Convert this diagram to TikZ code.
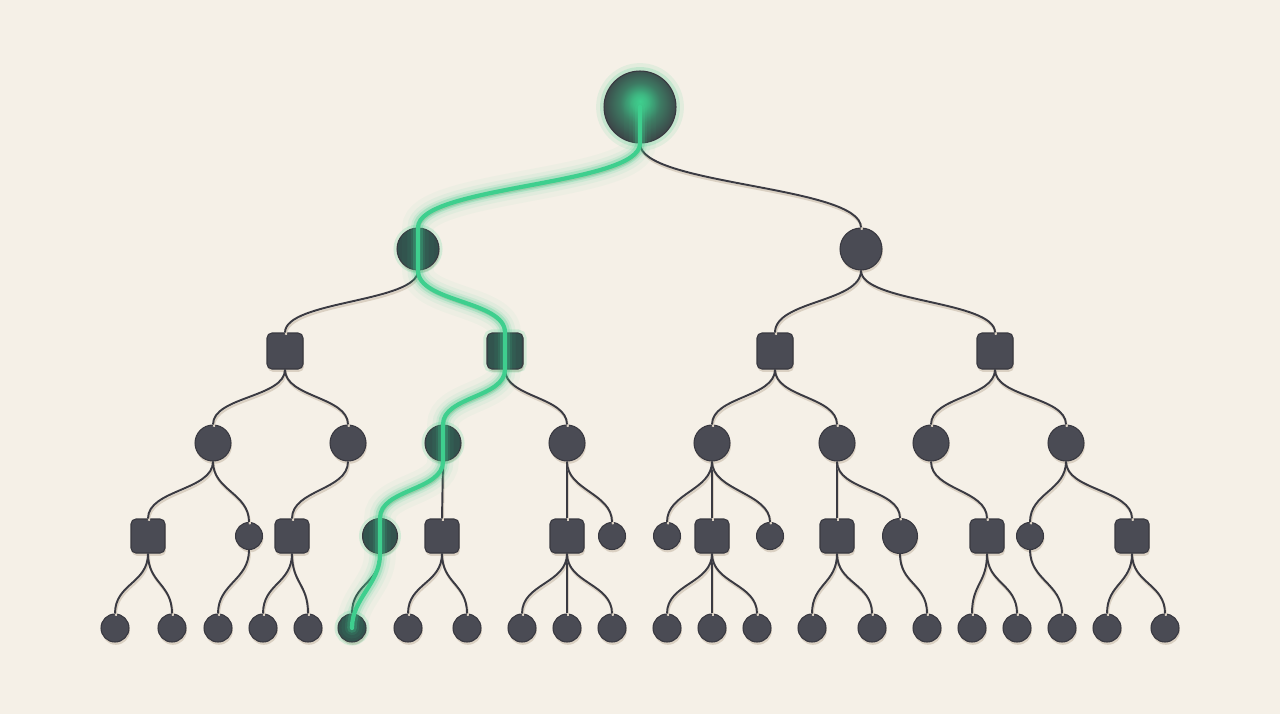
\documentclass[tikz,border=0pt]{standalone}
\usepackage{tikz}
\usetikzlibrary{calc,shadows}

\definecolor{paper}{RGB}{245,240,231}
\definecolor{slate}{RGB}{74,75,84}
\definecolor{slateline}{RGB}{56,56,64}
\definecolor{wirec}{RGB}{58,58,66}
\definecolor{dust}{RGB}{218,208,194}
\definecolor{glow}{RGB}{62,207,142}
\definecolor{deepteal}{RGB}{50,80,76}
\definecolor{rootdark}{RGB}{60,66,70}

\pgfdeclareradialshading{rootglow}{\pgfpoint{0bp}{4bp}}{color(0bp)=(glow); color(5bp)=(glow!85!rootdark); color(14bp)=(glow!40!rootdark); color(27bp)=(rootdark); color(50bp)=(rootdark)}

\tikzset{
  branch/.style={to path={.. controls ($(\tikztostart)+(0,#1)$) and ($(\tikztotarget)-(0,#1)$) .. (\tikztotarget)}},
  wire/.style={draw=wirec, line width=1.1pt,
    preaction={draw=dust, line width=1.2pt, transform canvas={shift={(0.5pt,-1.3pt)}}}},
  blob/.style={fill=slate, draw=slateline, line width=0.6pt, inner sep=0pt,
    drop shadow={shadow xshift=0.5pt, shadow yshift=-1.6pt, fill=dust, opacity=1}},
  knot/.style={blob, circle, minimum size=#1},
  slab/.style={blob, rounded corners=2.8pt, minimum size=#1},
  lit/.style={fill=deepteal, preaction={draw=glow, line width=4pt, opacity=0.18}},
  sq/.style={slab=0.68cm},
  pip/.style={knot=0.54cm},
  orb/.style={knot=0.70cm},
  leaf/.style={knot=0.56cm},
  litorb/.style={orb, lit},
  litleaf/.style={leaf, lit},
  rootk/.style={circle, minimum size=1.44cm, inner sep=0pt, draw=slateline, line width=0.6pt,
    preaction={draw=glow, line width=9pt, opacity=0.10},
    preaction={draw=glow, line width=4.5pt, opacity=0.18},
    shading=rootglow}
}

\begin{document}
\begin{tikzpicture}[x=0.02cm, y=-0.02cm]
    \fill[paper] (0,0) rectangle (1280,714);
    \useasboundingbox (0,0) rectangle (1280,714);

    \node[rootk] (r) at (640,107) {};
    \node[knot=0.84cm, lit] (a1) at (418,249) {};
    \node[knot=0.84cm] (a2) at (861,249) {};

    \foreach \n/\x in {1/285,3/775,4/995}
      \node[slab=0.72cm] (b\n) at (\x,351) {};
    \node[slab=0.72cm, lit] (b2) at (505,351) {};

    \foreach \n/\x in {1/213,2/348,4/567,5/712,6/837,7/931,8/1066}
      \node[knot=0.72cm] (c\n) at (\x,443) {};
    \node[knot=0.72cm, lit] (c3) at (443,443) {};

    \foreach \n/\x/\k in {1/148/sq,2/249/pip,3/292/sq,4/380/litorb,5/442/sq,6/567/sq,7/612/pip,8/667/pip,
                          9/712/sq,10/770/pip,11/837/sq,12/900/orb,13/987/sq,14/1030/pip,15/1132/sq}
      \node[\k] (d\n) at (\x,536) {};

    \foreach \n/\x/\k in {1/115/leaf,2/172/leaf,3/218/leaf,4/263/leaf,5/308/leaf,6/352/litleaf,7/408/leaf,
                          8/467/leaf,9/522/leaf,10/567/leaf,11/612/leaf,12/667/leaf,13/712/leaf,14/757/leaf,
                          15/812/leaf,16/872/leaf,17/927/leaf,18/972/leaf,19/1017/leaf,20/1062/leaf,
                          21/1107/leaf,22/1165/leaf}
      \node[\k] (e\n) at (\x,628) {};

    \foreach \p/\c in {r/a1,r/a2}
      \draw[wire] (\p.south) to[branch=42] (\c.north);
    \foreach \p/\c in {a1/b1,a1/b2,a2/b3,a2/b4}
      \draw[wire] (\p.south) to[branch=32] (\c.north);
    \foreach \p/\c in {b1/c1,b1/c2,b2/c3,b2/c4,b3/c5,b3/c6,b4/c7,b4/c8}
      \draw[wire] (\p.south) to[branch=28] (\c.north);
    \foreach \p/\c in {c1/d1,c1/d2,c2/d3,c3/d4,c3/d5,c4/d6,c4/d7,c5/d8,c5/d9,c5/d10,
                       c6/d11,c6/d12,c7/d13,c8/d14,c8/d15}
      \draw[wire] (\p.south) to[branch=29] (\c.north);
    \foreach \p/\c in {d1/e1,d1/e2,d2/e3,d3/e4,d3/e5,d4/e6,d5/e7,d5/e8,d6/e9,d6/e10,d6/e11,
                       d9/e12,d9/e13,d9/e14,d11/e15,d11/e16,d12/e17,d13/e18,d13/e19,d14/e20,
                       d15/e21,d15/e22}
      \draw[wire] (\p.south) to[branch=30] (\c.north);

    \foreach \w/\o in {18/0.04,12/0.07,8/0.12,5.5/0.25,2.4/1}
      \draw[glow, line width=\w pt, opacity=\o, line cap=round]
        (r.center) -- (r.south) to[branch=42] (a1.north) -- (a1.south) to[branch=32] (b2.north)
        -- (b2.south) to[branch=28] (c3.north) -- (c3.south) to[branch=29] (d4.north)
        -- (d4.south) to[branch=30] (e6.center);
  \end{tikzpicture}
\end{document}
